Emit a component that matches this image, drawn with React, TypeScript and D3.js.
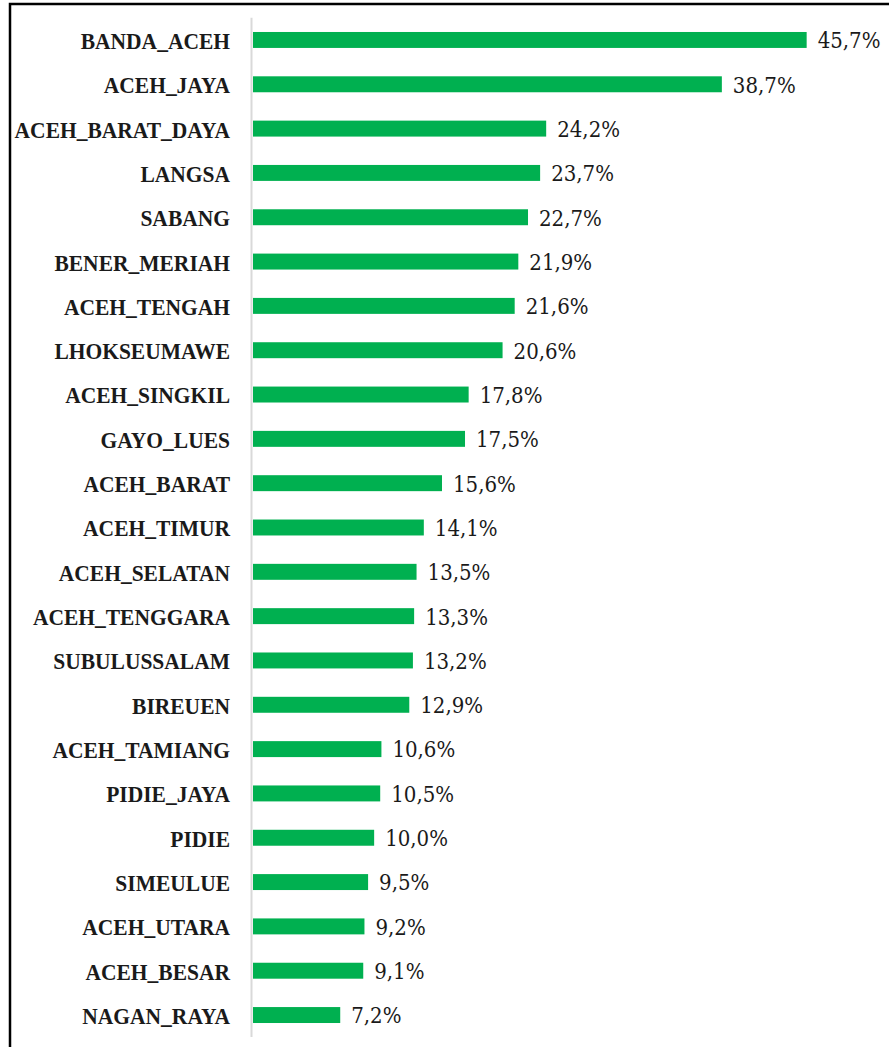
import React from "react";
import * as d3 from "d3";

const categories = [
  "BANDA_ACEH", "ACEH_JAYA", "ACEH_BARAT_DAYA", "LANGSA", "SABANG", "BENER_MERIAH",
  "ACEH_TENGAH", "LHOKSEUMAWE", "ACEH_SINGKIL", "GAYO_LUES", "ACEH_BARAT", "ACEH_TIMUR",
  "ACEH_SELATAN", "ACEH_TENGGARA", "SUBULUSSALAM", "BIREUEN", "ACEH_TAMIANG", "PIDIE_JAYA",
  "PIDIE", "SIMEULUE", "ACEH_UTARA", "ACEH_BESAR", "NAGAN_RAYA",
];
const values = [
  45.7, 38.7, 24.2, 23.7, 22.7, 21.9, 21.6, 20.6, 17.8, 17.5, 15.6, 14.1,
  13.5, 13.3, 13.2, 12.9, 10.6, 10.5, 10.0, 9.5, 9.2, 9.1, 7.2,
];

const W = 889;
const H = 1047;

export default function App() {
  const x = d3.scaleLinear().domain([0, 50]).range([253, 858.75]);
  const y = d3
    .scaleBand<string>()
    .domain(categories)
    .range([17.8, 1037.2])
    .paddingInner(0.64)
    .paddingOuter(0.32);
  const fmt = (v: number) => v.toFixed(1).replace(".", ",") + "%";
  return (
    <svg
      width={W}
      height={H}
      style={{ position: "absolute", left: 0, top: 0, background: "#fff" }}
    >
      <rect x={10} y={4} width={W + 20} height={H + 20} fill="#fff" stroke="#000" strokeWidth={2.5} />
      {categories.map((c, i) => {
        const yy = y(c)!;
        const bw = y.bandwidth();
        return (
          <g key={c}>
            <rect x={x(0)} y={yy} width={x(values[i]) - x(0)} height={bw} fill="#00b050" />
            <text
              transform={`translate(230,${yy + bw / 2}) scale(0.915,1)`}
              dy="0.38em"
              textAnchor="end"
              fontFamily="'Liberation Serif', serif"
              fontWeight="bold"
              fontSize={23.5}
              fill="#1a1a1a"
            >
              {c}
            </text>
            <text
              x={x(values[i]) + 11}
              y={yy + bw / 2}
              dy="0.38em"
              textAnchor="start"
              fontFamily="'DejaVu Serif Condensed', 'DejaVu Serif', serif"
              fontSize={22}
              fill="#1a1a1a"
            >
              {fmt(values[i])}
            </text>
          </g>
        );
      })}
      <line x1={251.5} x2={251.5} y1={17.8} y2={1037} stroke="#d9d9d9" strokeWidth={2} />
    </svg>
  );
}
